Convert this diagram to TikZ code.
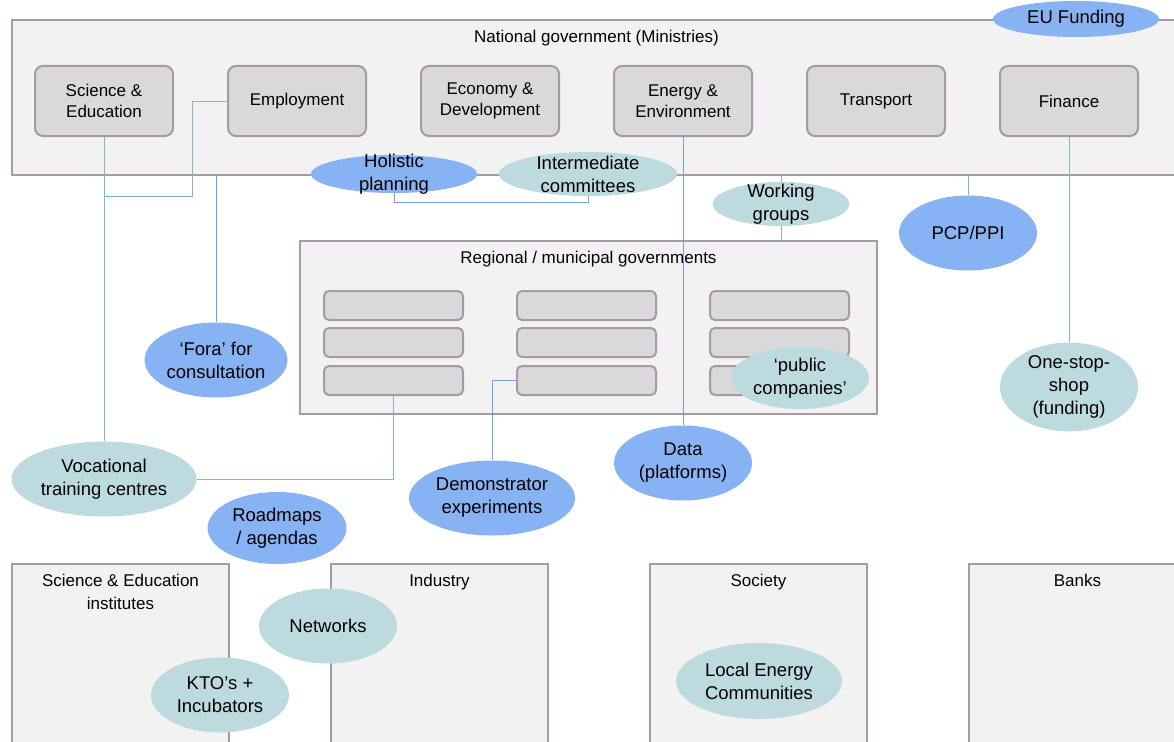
\documentclass[tikz,border=0pt]{standalone}
\usepackage{fontspec}
\setmainfont{Liberation Sans}
\usetikzlibrary{shapes.geometric,positioning}
\definecolor{frame}{HTML}{A898A8}
\definecolor{panelgray}{HTML}{F2F2F2}
\definecolor{boxgray}{HTML}{D9D9D9}
\definecolor{ovalblue}{HTML}{87B2F3}
\definecolor{ovalteal}{HTML}{BDDBDF}
\definecolor{wireblue}{HTML}{6FA3E3}
\definecolor{wireteal}{HTML}{80B8C3}
\newcommand{\boxfont}{\fontsize{17}{21}\selectfont}
\newcommand{\headfont}{\fontsize{17}{23}\selectfont}
\newcommand{\ovalfont}{\fontsize{18.5}{23}\selectfont}
\pgfdeclarelayer{panels}
\pgfdeclarelayer{wires}
\pgfsetlayers{panels,wires,main}
\tikzset{every picture/.style={line width=1.3pt}}
\tikzset{
	panel/.style={draw=frame, fill=panelgray, line width=2pt, anchor=north west, inner sep=0pt},
	ministry/.style={draw=frame, fill=boxgray, line width=2pt, rounded corners=8pt, minimum width=138pt, minimum height=70pt, align=center, font=\boxfont},
	slot/.style={draw=frame, fill=boxgray, line width=2pt, rounded corners=5pt, minimum width=139pt, minimum height=29pt},
	heading/.style={anchor=north, inner sep=0pt, align=center, font=\headfont},
	blueoval/.style={ellipse, fill=ovalblue, inner sep=0pt, align=center, font=\ovalfont},
	tealoval/.style={ellipse, fill=ovalteal, inner sep=0pt, align=center, font=\ovalfont},
	flatoval/.style={inner ysep=-10pt},
	bluewire/.style={draw=wireblue},
	tealwire/.style={draw=wireteal}
}

\begin{document}
\begin{tikzpicture}[x=1pt,y=-1pt]
	\useasboundingbox (0,0) rectangle (1174,741);
	\begin{pgfonlayer}{panels}
		\node[panel, minimum width=1169pt, minimum height=155pt] (natl) at (11,19) {};
		\node[heading] (natltitle) at ([yshift=-11pt]natl.north) {National government (Ministries)};
		\node[ministry] (sci) at (104,101) {Science \&\\Education};
		\node[ministry] (employ) at (297,101) {Employment};
		\node[ministry] (econ) at (490,101) {Economy \&\\Development};
		\node[ministry] (energy) at (683,101) {Energy \&\\Environment};
		\node[ministry] (transport) at (876,101) {Transport};
		\node[ministry] (finance) at (1069,101) {Finance};
		\node[panel, minimum width=577pt, minimum height=173pt] (regional) at (299,240) {};
		\node[heading] (regtitle) at ([yshift=-11pt]regional.north) {Regional / municipal governments};
		\foreach \col/\cx in {1/393.5, 2/586.5, 3/779.5}
			\foreach \row/\ry in {1/305.5, 2/342.5, 3/380.5}
				\node[slot] (r\col\row) at (\cx,\ry) {};
		\node[panel, minimum width=217pt, minimum height=250pt] (seinst) at (11,563) {};
		\node[heading] at ([yshift=-11pt]seinst.north) {Science \& Education\\institutes};
		\node[panel, minimum width=217pt, minimum height=250pt] (industry) at (330,563) {};
		\node[heading] at ([yshift=-11pt]industry.north) {Industry};
		\node[panel, minimum width=217pt, minimum height=250pt] (society) at (649,563) {};
		\node[heading] at ([yshift=-11pt]society.north) {Society};
		\node[panel, minimum width=217pt, minimum height=250pt] (banks) at (968,563) {};
		\node[heading] at ([yshift=-11pt]banks.north) {Banks};
	\end{pgfonlayer}

	\node[blueoval, minimum width=166pt, minimum height=36pt] (eufund) at (1076,19) {EU Funding};
	\node[blueoval, flatoval, minimum width=166pt, minimum height=38pt] (holistic) at (394,174) {Holistic\\planning};
	\node[tealoval, flatoval, minimum width=178pt, minimum height=44pt] (interm) at (588,174) {Intermediate\\committees};
	\node[tealoval, flatoval, minimum width=137pt, minimum height=44pt] (wgroups) at (781,204) {Working\\groups};
	\node[blueoval, minimum width=138pt, minimum height=75pt] (pcp) at (968,233) {PCP/PPI};
	\node[blueoval, minimum width=143pt, minimum height=75pt] (fora) at (216,360) {‘Fora’ for\\consultation};
	\node[tealoval, minimum width=138pt, minimum height=62pt] (pubcomp) at (800,378) {‘public\\companies’};
	\node[tealoval, minimum width=138pt, minimum height=88pt] (onestop) at (1069,387) {One-stop-\\shop\\(funding)};
	\node[tealoval, minimum width=185pt, minimum height=75pt] (voc) at (104,479) {Vocational\\training centres};
	\node[blueoval, minimum width=166pt, minimum height=75pt] (demo) at (492,498) {Demonstrator\\experiments};
	\node[blueoval, minimum width=138pt, minimum height=75pt] (data) at (683,463) {Data\\(platforms)};
	\node[blueoval, minimum width=139pt, minimum height=72pt] (roadmap) at (277,528) {Roadmaps\\/ agendas};
	\node[tealoval, minimum width=138pt, minimum height=75pt] (networks) at (328,626) {Networks};
	\node[tealoval, minimum width=138pt, minimum height=75pt] (kto) at (220,695) {KTO’s +\\Incubators};
	\node[tealoval, minimum width=166pt, minimum height=76pt] (lec) at (759,681) {Local Energy\\Communities};

	\begin{pgfonlayer}{wires}
		\coordinate (sejoin) at (sci.south |- 0,196);
		\draw[tealwire] (sci.south) -- (voc.north);
		\draw[tealwire] (employ.west) -- ++(-35,0) |- (sejoin);
		\draw[bluewire] (fora.north) -- (fora.north |- natl.south);
		\draw[bluewire] (holistic.south) -- ++(0,9) -| (interm.south);
		\draw[tealwire] (wgroups.north) -- (wgroups.north |- natl.south);
		\draw[tealwire] (wgroups.south) -- (wgroups.south |- regional.north);
		\draw[bluewire] (energy.south) -- (data.north);
		\draw[tealwire] (pcp.north) -- (pcp.north |- natl.south);
		\draw[tealwire] (finance.south) -- (onestop.north);
		\draw[tealwire] (voc.east) -| (r13.south);
		\draw[bluewire] (demo.north) |- (r23.west);
	\end{pgfonlayer}
\end{tikzpicture}
\end{document}
